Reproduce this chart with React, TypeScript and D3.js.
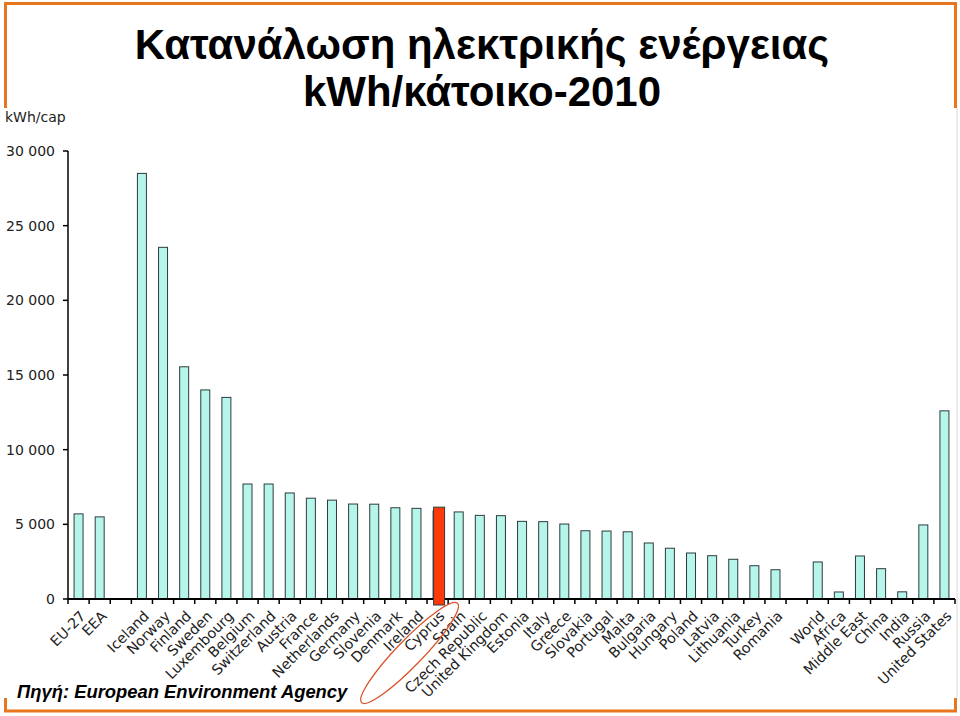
import React from "react";
import * as d3 from "d3";

const categories: string[] = [
  "EU-27", "EEA", "", "Iceland", "Norway", "Finland", "Sweden", "Luxembourg", "Belgium",
  "Switzerland", "Austria", "France", "Netherlands", "Germany", "Slovenia", "Denmark",
  "Ireland", "Cyprus", "Spain", "Czech Republic", "United Kingdom", "Estonia", "Italy",
  "Greece", "Slovakia", "Portugal", "Malta", "Bulgaria", "Hungary", "Poland", "Latvia",
  "Lithuania", "Turkey", "Romania", "", "World", "Africa", "Middle East", "China", "India",
  "Russia", "United States",
];

const values: (number | null)[] = [
  5700, 5500, null, 28500, 23550, 15550, 14000, 13500, 7700,
  7700, 7100, 6750, 6620, 6360, 6350, 6110,
  6070, 5900, 5830, 5600, 5580, 5200, 5180,
  5020, 4570, 4550, 4500, 3750, 3400, 3080, 2900,
  2660, 2230, 1960, null, 2480, 470, 2880, 2030, 480,
  4960, 12600,
];

const highlightCategory = "Cyprus";
const highlightValue = 6150;

const yTicks: number[] = [0, 5000, 10000, 15000, 20000, 25000, 30000];
const titleLines: string[] = ["Κατανάλωση ηλεκτρικής ενέργειας", "kWh/κάτοικο-2010"];
const yUnit = "kWh/cap";
const sourceText = "Πηγή: European Environment Agency";

const W = 960;
const H = 716;
const X0 = 68;
const X1 = 955;
const Y0 = 599;
const Y1 = 151;

const ORANGE = "#E8761F";
const FILL = "#B5F5EA";
const STROKE = "#2E3B3B";
const AXIS_FONT = "'DejaVu Sans', Verdana, sans-serif";

export default function App() {
  const idx = categories.map((_, i) => String(i));
  const x = d3.scaleBand<string>().domain(idx).range([X0, X1]).paddingInner(0).paddingOuter(0);
  const y = d3.scaleLinear().domain([0, 30000]).range([Y0, Y1]);
  const step = x.step();
  const barW = 9;
  const fmt = (v: number) => d3.format(",")(v).replace(/,/g, " ");

  const hi = categories.indexOf(highlightCategory);
  const hiCx = (x(String(hi)) as number) + step / 2;

  return (
    <svg width={W} height={H} style={{ position: "absolute", left: 0, top: 0, background: "#fff" }}>
      {/* frame */}
      <g fill="none" stroke={ORANGE} strokeWidth={3}>
        <polyline points="5.5,108 5.5,3.5 955.5,3.5 955.5,108" />
        <polyline points="5.5,698 5.5,711 955.5,711 955.5,698" />
      </g>
      <line x1={957} x2={957} y1={108} y2={698} stroke="#d8d8d8" strokeWidth={1} />

      {/* title */}
      <g fontFamily="'Liberation Sans', Arial, sans-serif" fontWeight="bold" fontSize={42} textAnchor="middle" fill="#000">
        <text x={482} y={59}>{titleLines[0]}</text>
        <text x={482} y={106}>{titleLines[1]}</text>
      </g>

      <text x={5} y={122} fontFamily={AXIS_FONT} fontSize={14} fill="#222">{yUnit}</text>

      {/* y axis */}
      <g fontFamily={AXIS_FONT} fontSize={14} fill="#222">
        <line x1={X0} x2={X0} y1={Y1} y2={Y0} stroke="#000" strokeWidth={1.5} />
        {yTicks.map((t) => (
          <g key={t}>
            <line x1={X0 - 5} x2={X0} y1={y(t)} y2={y(t)} stroke="#000" strokeWidth={1.5} />
            <text x={55} y={y(t)} dy="0.35em" textAnchor="end">{fmt(t)}</text>
          </g>
        ))}
      </g>

      {/* bars */}
      {values.map((v, i) =>
        v == null ? null : (
          <rect
            key={i}
            x={(x(String(i)) as number) + step / 2 - barW / 2}
            y={y(v)}
            width={barW}
            height={Y0 - y(v)}
            fill={FILL}
            stroke={STROKE}
            strokeWidth={1}
          />
        )
      )}

      {/* x axis */}
      <line x1={X0} x2={X1} y1={Y0} y2={Y0} stroke="#000" strokeWidth={2} />
      {d3.range(categories.length + 1).map((k) => (
        <line key={k} x1={X0 + k * step} x2={X0 + k * step} y1={Y0} y2={Y0 + 5} stroke="#000" strokeWidth={1.5} />
      ))}

      {/* highlight bar */}
      <rect
        x={hiCx - 4}
        y={y(highlightValue)}
        width={11}
        height={Y0 + 6 - y(highlightValue)}
        fill="#FF3A0A"
        stroke={STROKE}
        strokeWidth={1}
      />

      {/* x labels */}
      <g fontFamily={AXIS_FONT} fontSize={14.3} fill="#222">
        {categories.map((c, i) =>
          c === "" ? null : (
            <text
              key={i}
              textAnchor="end"
              transform={`translate(${(x(String(i)) as number) + step / 2 + 8},${Y0 + 18}) rotate(-45)`}
            >
              {c}
            </text>
          )
        )}
      </g>

      {/* ellipse around Cyprus */}
      <ellipse
        cx={hiCx - 28}
        cy={653}
        rx={69}
        ry={13}
        transform={`rotate(-46 ${hiCx - 28} 653)`}
        fill="none"
        stroke="#D9532B"
        strokeWidth={1.3}
      />

      <text
        x={17}
        y={698}
        fontFamily="'Liberation Sans', Arial, sans-serif"
        fontWeight="bold"
        fontStyle="italic"
        fontSize={18.4}
        fill="#000"
      >
        {sourceText}
      </text>
    </svg>
  );
}
